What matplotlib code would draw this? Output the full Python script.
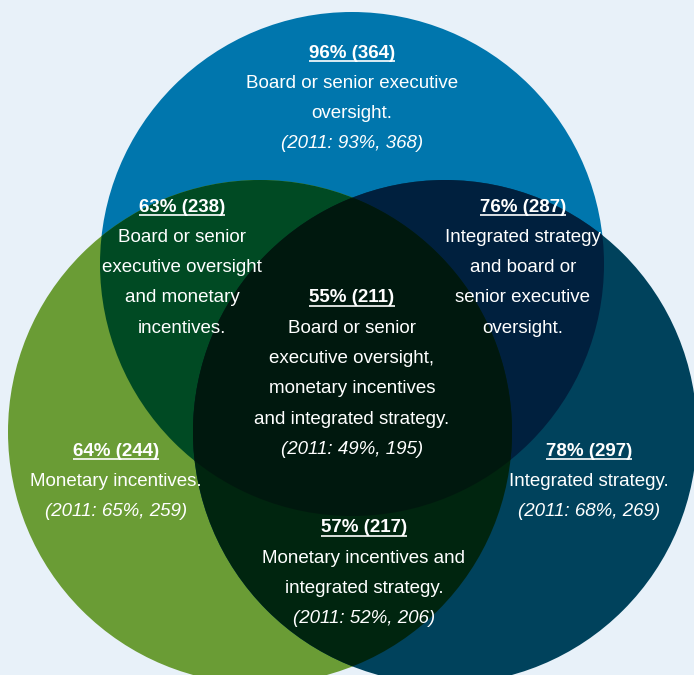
import numpy as np
import matplotlib
matplotlib.use("Agg")
import matplotlib.pyplot as plt
from matplotlib.patches import Circle, Polygon

plt.rcParams['font.family'] = ['Liberation Sans', 'DejaVu Sans']

# region labels: share (count), description, 2011 comparison
headers = ["96% (364)", "63% (238)", "76% (287)", "55% (211)",
           "64% (244)", "78% (297)", "57% (217)"]
descs = [["Board or senior executive", "oversight."],
         ["Board or senior", "executive oversight", "and monetary", "incentives."],
         ["Integrated strategy", "and board or", "senior executive", "oversight."],
         ["Board or senior", "executive oversight,", "monetary incentives",
          "and integrated strategy."],
         ["Monetary incentives."],
         ["Integrated strategy."],
         ["Monetary incentives and", "integrated strategy."]]
notes = ["(2011: 93%, 368)", None, None, "(2011: 49%, 195)",
         "(2011: 65%, 259)", "(2011: 68%, 269)", "(2011: 52%, 206)"]

# layout (pixel coords, y down)
label_pos = [(352, 53), (182, 207), (523, 207), (352, 298),
             (116, 451), (589, 451), (364, 528)]
line_h = 30.3

R = 252
c_top = (352, 264)
c_left = (260, 432)
c_right = (445, 432)

bg = '#e8f1f9'
col_top = '#0076ad'
col_left = '#6a9c35'
col_right = '#00425c'
col_tl = '#004a23'
col_tr = '#00203e'
col_lr = '#00250f'
col_all = '#00180e'

fig = plt.figure(figsize=(6.94, 6.75), dpi=100, facecolor=bg)
ax = fig.add_axes([0, 0, 1, 1])
ax.set_xlim(0, 694)
ax.set_ylim(675, 0)
ax.set_aspect('equal')
ax.axis('off')
ax.set_facecolor(bg)


def circ(c, color):
    p = Circle(c, R, facecolor=color, edgecolor='none', zorder=1)
    ax.add_patch(p)
    return p


ct = circ(c_top, col_top)
cl = circ(c_left, col_left)
cr = circ(c_right, col_right)

# pairwise overlaps: one circle clipped by another
for c, clipper, color in [(c_left, ct, col_tl), (c_right, ct, col_tr), (c_right, cl, col_lr)]:
    p = Circle(c, R, facecolor=color, edgecolor='none', zorder=2)
    ax.add_patch(p)
    p.set_clip_path(clipper)


def lens(a, b, n=720):
    t = np.linspace(0, 2 * np.pi, n, endpoint=False)
    pa = np.c_[a[0] + R * np.cos(t), a[1] + R * np.sin(t)]
    pb = np.c_[b[0] + R * np.cos(t), b[1] + R * np.sin(t)]
    pa = pa[np.hypot(pa[:, 0] - b[0], pa[:, 1] - b[1]) <= R]
    pb = pb[np.hypot(pb[:, 0] - a[0], pb[:, 1] - a[1]) <= R]
    pts = np.vstack([pa, pb])
    m = pts.mean(axis=0)
    ang = np.arctan2(pts[:, 1] - m[1], pts[:, 0] - m[0])
    return pts[np.argsort(ang)]


center = Polygon(lens(c_left, c_right), closed=True, facecolor=col_all,
                 edgecolor='none', zorder=3)
ax.add_patch(center)
center.set_clip_path(ct)

fs = 13.5
heads = []
for i, (x, y) in enumerate(label_pos):
    h = ax.text(x, y, headers[i], ha='center', va='center', color='white',
                fontsize=fs, fontweight='bold', zorder=5)
    heads.append(h)
    yy = y
    for line in descs[i]:
        yy += line_h
        ax.text(x, yy, line, ha='center', va='center', color='white',
                fontsize=fs, zorder=5)
    if notes[i]:
        yy += line_h
        ax.text(x, yy, notes[i], ha='center', va='center', color='white',
                fontsize=fs, style='italic', zorder=5)

# underline the headers
fig.canvas.draw()
r = fig.canvas.get_renderer()
inv = ax.transData.inverted()
for h in heads:
    bb = h.get_window_extent(renderer=r)
    (x0, y0), (x1, y1) = inv.transform([(bb.x0, bb.y0), (bb.x1, bb.y1)])
    yl = max(y0, y1) - 1.0
    ax.plot([x0, x1], [yl, yl], color='white', lw=1.2, zorder=5,
            solid_capstyle='butt')

fig.savefig('out.png', dpi=100, facecolor=bg)
